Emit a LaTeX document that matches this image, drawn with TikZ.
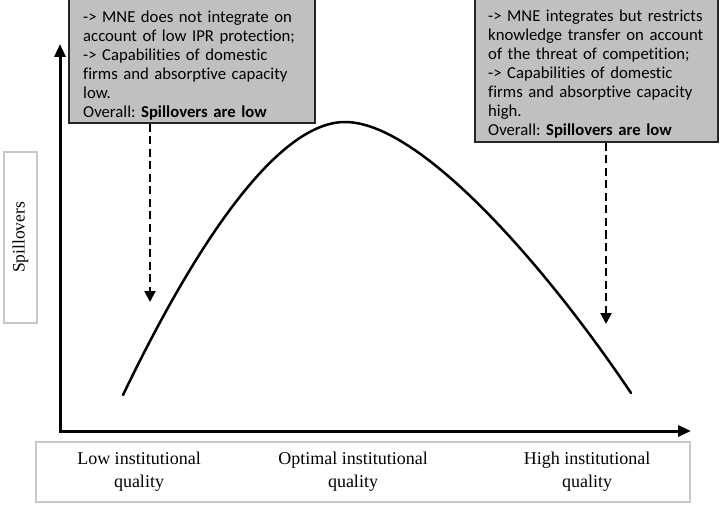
\documentclass[tikz,border=0pt]{standalone}
\usepackage{fontspec}
\setmainfont{Liberation Serif}
\newfontfamily\boxfont[Ligatures=NoCommon]{Carlito}
\usetikzlibrary{arrows.meta}
\definecolor{boxgray}{RGB}{192,192,192}
\definecolor{framegray}{RGB}{200,200,200}
\tikzset{
  infobox/.style={draw=black!85, line width=2pt, fill=boxgray, inner sep=0pt},
  infotext/.style={align=left, inner sep=0pt, anchor=north west, text width=228pt,
    font=\boxfont\frenchspacing\fontsize{16.7}{19}\selectfont},
  axisline/.style={line width=3pt, -{Triangle[length=13pt,width=11pt]}},
  dasharrow/.style={line width=2.2pt, dash pattern=on 8pt off 4.5pt, -{Triangle[length=11pt,width=11pt]}},
  labelbox/.style={draw=framegray, line width=1.5pt},
  qlabel/.style={align=center, font=\fontsize{18}{23}\selectfont, inner sep=0pt}
}
\begin{document}
\begin{tikzpicture}[x=1pt,y=-1pt]
\useasboundingbox (0,0) rectangle (720,505);
\fill[white] (0,0) rectangle (720,505);
% axes
\coordinate (O) at (60,431);
\coordinate (ytip) at (60,44);
\coordinate (xtip) at (691,431);
\draw[axisline] ([yshift=-1.5pt]O) -- (ytip);
\draw[axisline] (O) -- (xtip);
% curve
\draw[line width=2.5pt, line cap=round] (123,395) .. controls (200,235) and (280,122) .. (345,122)
  .. controls (420,122) and (545,265) .. (631,393);
% info boxes
\node[infobox, minimum width=246pt, minimum height=125pt] (box1) at (192,60.5) {};
\node[infotext] (box1text) at (83,11)
 {-> MNE does not integrate on\\account of low IPR protection;\\-> Capabilities of domestic\\firms and absorptive capacity\\low.\\Overall: \textbf{Spillovers are low}};
\node[infobox, minimum width=243pt, minimum height=144pt] (box2) at (596.5,70) {};
\node[infotext] (box2text) at (488,10)
 {-> MNE integrates but restricts\\knowledge transfer on account\\of the threat of competition;\\-> Capabilities of domestic\\firms and absorptive capacity\\high.\\Overall: \textbf{Spillovers are low}};
% dashed arrows
\coordinate (t1) at (150,302);
\coordinate (t2) at (606,324);
\draw[dasharrow] (box1.south -| t1) -- (t1);
\draw[dasharrow] (box2.south -| t2) -- (t2);
% y label box
\node[labelbox, minimum width=33pt, minimum height=171pt, inner sep=0pt] (ybox) at (20.5,237.5) {};
\node[rotate=90, font=\fontsize{17.5}{20}\selectfont, inner sep=0pt] (ylab) at (ybox.center) {Spillovers};
% x label box
\node[labelbox, minimum width=654pt, minimum height=60pt, inner sep=0pt] (xbox) at (363,472) {};
\node[qlabel] (low) at (139,472) {Low institutional\\quality};
\node[qlabel] (opt) at (353,472) {Optimal institutional\\quality};
\node[qlabel] (high) at (587,472) {High institutional\\quality};
\end{tikzpicture}
\end{document}
